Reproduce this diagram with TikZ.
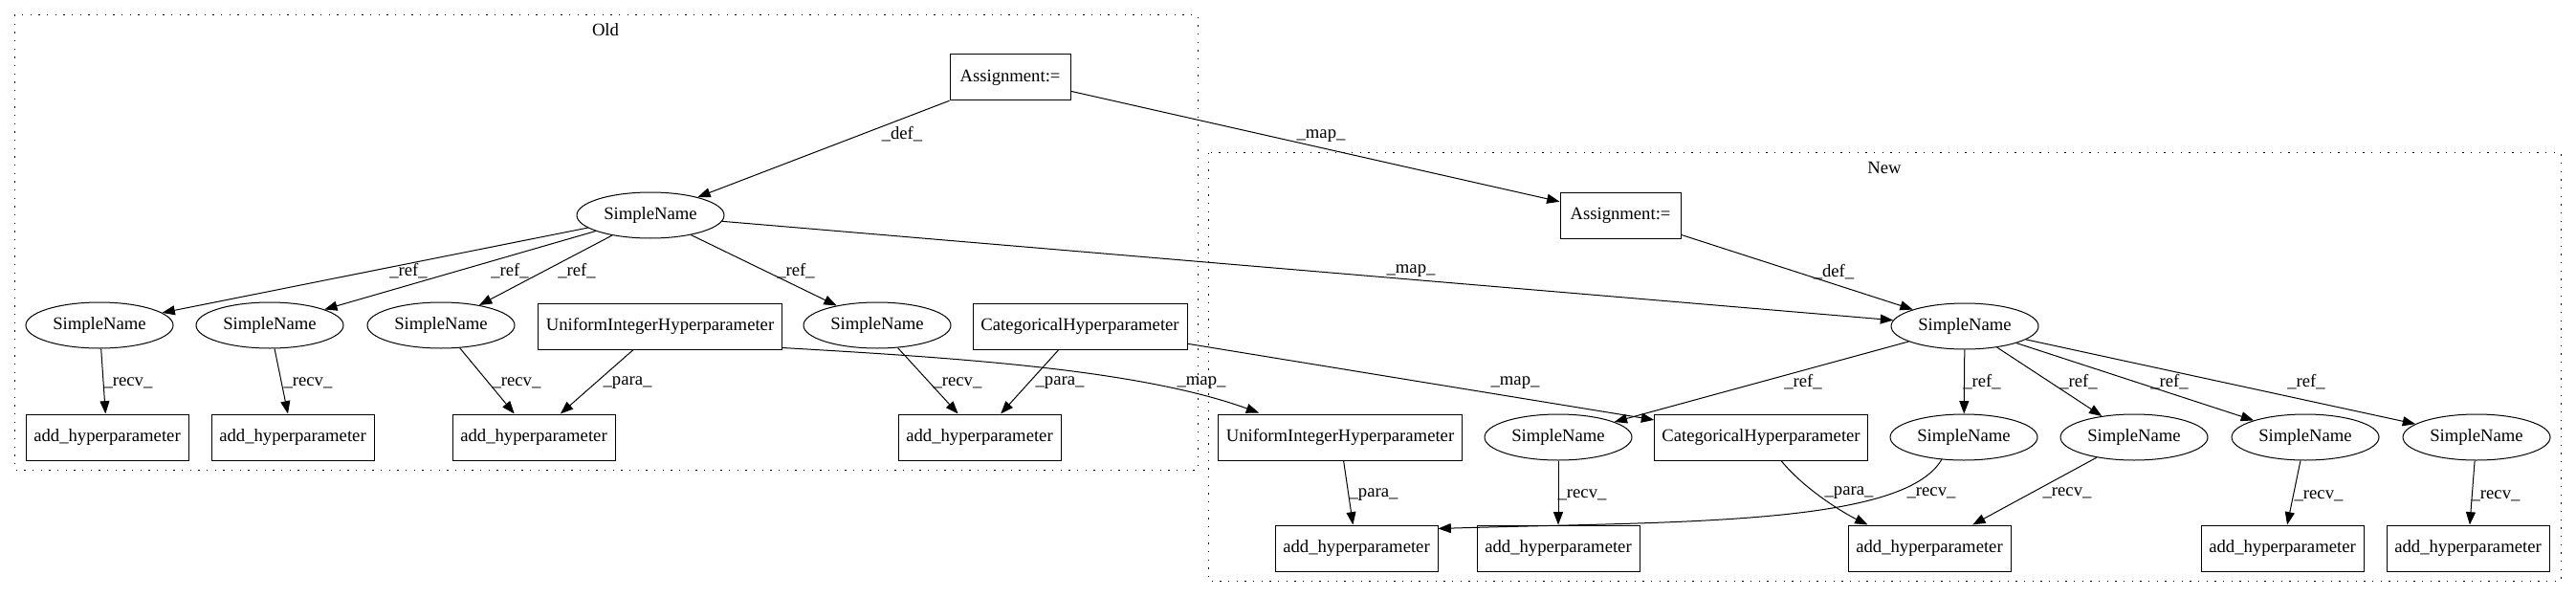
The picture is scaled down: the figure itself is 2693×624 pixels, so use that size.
\documentclass[tikz,border=0pt]{standalone}
\usepackage{fontspec}
\setmainfont{Liberation Serif}
\usetikzlibrary{arrows.meta,shapes.geometric,calc}
\begin{document}
\begin{tikzpicture}[x=0.75pt,y=-0.75pt,
  every node/.style={font=\fontsize{14pt}{16pt}\selectfont, inner sep=0pt},
  box/.style={draw, line width=0.75pt, rectangle, minimum height=36pt},
  addb/.style={box, minimum width=127.5pt},
  ell/.style={draw, line width=0.75pt, ellipse, minimum width=115.5pt, minimum height=36pt},
  edge/.style={line width=0.75pt, -{Triangle[length=10pt,width=7.5pt]}},
  cluster/.style={line width=0.75pt, dash pattern=on 1pt off 5.5pt}]
\useasboundingbox (0,0) rectangle (2693,624);

% clusters
\draw[cluster] (15,16) rectangle (1252,491);
\node (oldlbl) at (633,31) {Old};
\draw[cluster] (1263,160) rectangle (2677,607);
\node (newlbl) at (1970,175) {New};

% Old nodes
\node[box, minimum width=94.5pt] (oA) at (1056,81) {Assignment:=};
\node[ell] (oS) at (680,225) {SimpleName};
\node[ell] (oS1) at (104,340) {SimpleName};
\node[ell] (oS2) at (282,340) {SimpleName};
\node[ell] (oS3) at (461,340) {SimpleName};
\node[box, minimum width=191pt] (oU) at (690,341) {UniformIntegerHyperparameter};
\node[ell] (oS4) at (917,340) {SimpleName};
\node[box, minimum width=168pt] (oC) at (1129,341) {CategoricalHyperparameter};
\node[addb] (oH1) at (112,457) {add\_hyperparameter};
\node[addb] (oH2) at (306,457) {add\_hyperparameter};
\node[addb] (oH3) at (558,457) {add\_hyperparameter};
\node[addb] (oH4) at (1024,457) {add\_hyperparameter};

% New nodes
\node[box, minimum width=94.5pt] (nA) at (1694,225) {Assignment:=};
\node[ell] (nS) at (2054,341) {SimpleName};
\node[box, minimum width=191pt] (nU) at (1401,457) {UniformIntegerHyperparameter};
\node[ell] (nS1) at (1629,457) {SimpleName};
\node[box, minimum width=167pt] (nC) at (1841,457) {CategoricalHyperparameter};
\node[ell] (nS2) at (2053,457) {SimpleName};
\node[ell] (nS3) at (2231,457) {SimpleName};
\node[ell] (nS4) at (2410,457) {SimpleName};
\node[ell] (nS5) at (2589,457) {SimpleName};
\node[addb] (nH1) at (1418,573) {add\_hyperparameter};
\node[addb] (nH2) at (1629,573) {add\_hyperparameter};
\node[addb] (nH3) at (2017,573) {add\_hyperparameter};
\node[addb] (nH4) at (2386,573) {add\_hyperparameter};
\node[addb] (nH5) at (2580,573) {add\_hyperparameter};

% Old edges
\draw[edge] (oA) -- (oS);
\node (l1) at (943,140) {\_def\_};
\node (l2) at (427,283) {\_ref\_};
\node (l3) at (533,283) {\_ref\_};
\node (l4) at (603,283) {\_ref\_};
\node (l5) at (832,283) {\_ref\_};
\draw[edge] (oS) -- (oS1);
\draw[edge] (oS) -- (oS2);
\draw[edge] (oS) -- (oS3);
\draw[edge] (oS) -- (oS4);
\draw[edge] (oS1) -- (oH1);
\draw[edge] (oS2) -- (oH2);
\draw[edge] (oS3) -- (oH3);
\draw[edge] (oU) -- (oH3);
\draw[edge] (oS4) -- (oH4);
\draw[edge] (oC) -- (oH4);
\node (l6) at (134,400) {\_recv\_};
\node (l7) at (322,400) {\_recv\_};
\node (l8) at (540,400) {\_recv\_};
\node (l9) at (656,400) {\_para\_};
\node (l10) at (1001,400) {\_recv\_};
\node (l11) at (1108,400) {\_para\_};

% map edges
\draw[edge] (oA) -- (nA);
\node (m1) at (1381,142) {\_map\_};
\draw[edge] (oS) -- (nS);
\node (m2) at (1475,283) {\_map\_};
\draw[edge] ($(oU.south east)+(0,-2)$) .. controls (1000,374) and (1190,386) .. ($(nU.north west)+(43,-1)$);
\node (m3) at (1256,400) {\_map\_};
\draw[edge] (oC) -- (nC);
\node (m4) at (1584,400) {\_map\_};

% New edges
\draw[edge] (nA) -- (nS);
\node (n1) at (1917,284) {\_def\_};
\draw[edge] (nS) -- (nS1);
\draw[edge] (nS) -- (nS2);
\draw[edge] (nS) -- (nS3);
\draw[edge] (nS) -- (nS4);
\draw[edge] (nS) -- (nS5);
\node (n2) at (1885,399) {\_ref\_};
\node (n3) at (2072,399) {\_ref\_};
\node (n4) at (2173,399) {\_ref\_};
\node (n5) at (2268,399) {\_ref\_};
\node (n6) at (2411,399) {\_ref\_};
\draw[edge] (nU) -- (nH1);
\draw[edge] (nS1) -- (nH2);
\draw[edge] ($(nC.south)+(21,0)$) .. controls (1885,510) and (1925,535) .. ($(nH3.north west)+(21,0)$);
\draw[edge] ($(nS2.center)+(-23,23)$) .. controls (1990,550) and (1750,545) .. ($(nH1.north east)+(0,4)$);
\draw[edge] (nS3) -- (nH3);
\draw[edge] (nS4) -- (nH4);
\draw[edge] (nS5) -- (nH5);
\node (n7) at (1436,517) {\_para\_};
\node (n8) at (1654,517) {\_recv\_};
\node (n9) at (1933,515) {\_para\_};
\node (n10) at (2019,515) {\_recv\_};
\node (n11) at (2161,515) {\_recv\_};
\node (n12) at (2424,518) {\_recv\_};
\node (n13) at (2609,518) {\_recv\_};
\end{tikzpicture}
\end{document}
